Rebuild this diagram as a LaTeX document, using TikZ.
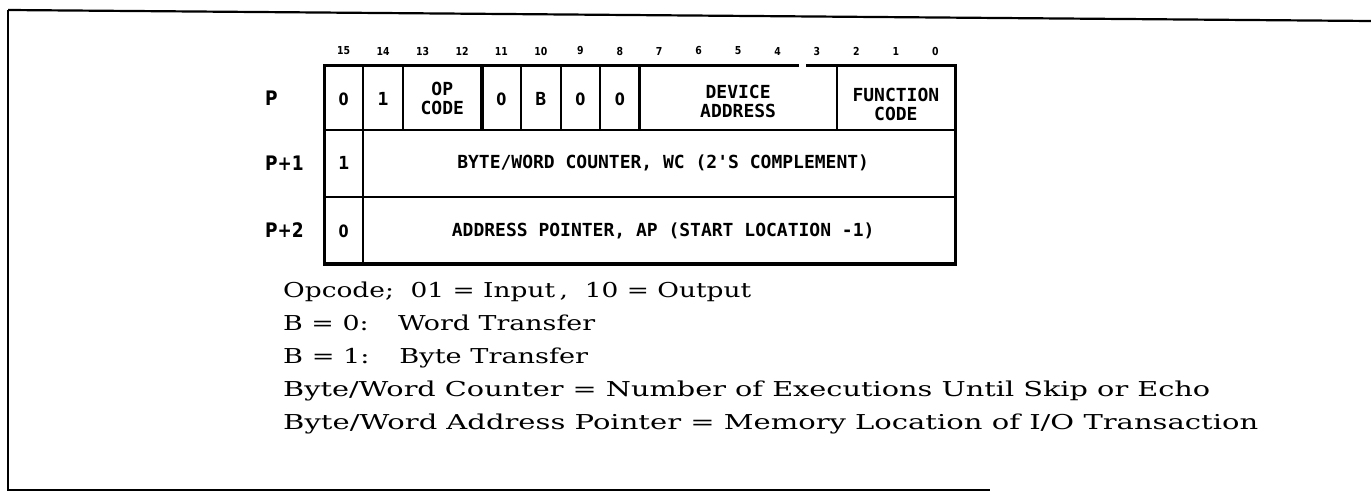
\documentclass[tikz,border=0pt]{standalone}
\usepackage{graphicx}
\usepackage{fontspec}
\newfontfamily\boxfont{DejaVu Sans Mono}
\newfontfamily\labfont[FakeStretch=0.85]{DejaVu Sans}
\newfontfamily\capfont{DejaVu Serif}
\begin{document}
\begin{tikzpicture}[x=1pt,y=-1pt,
  boxtxt/.style={font=\boxfont\bfseries\fontsize{18}{19}\selectfont, align=center, inner sep=0pt},
  celldig/.style={font=\labfont\bfseries\fontsize{17}{18}\selectfont, inner sep=0pt},
  bitnum/.style={font=\labfont\bfseries\fontsize{11}{12}\selectfont, inner sep=0pt},
  rowlab/.style={font=\labfont\bfseries\fontsize{20}{21}\selectfont, inner sep=0pt, anchor=west},
  captxt/.style={font=\capfont\fontsize{20.5}{22}\selectfont, inner sep=0pt, anchor=base west},
  thinln/.style={line width=2pt},
  midln/.style={line width=2.7pt},
  thickln/.style={line width=3.6pt},
  boxln/.style={line width=3pt, line join=miter},
  frame/.style={line width=2.2pt}]
\useasboundingbox (0,0) rectangle (1371,497);
\def\L{324}\def\W{39.4375}
% outer frame
\draw[frame] (8,10) -- (8,490) -- (990,490);
\draw[frame] (8,10) -- (1371,21);
% bit numbers
\foreach \b in {0,...,15}{
  \node[bitnum] (bit\b) at ({\L+(15-\b+0.5)*\W},51) {\b};
}
% row geometry
\def\ya{66}\def\yb{130}\def\yc{197}\def\yd{264}
% row dividers
\draw[midln] (\L,\yb) -- (955,\yb);
\draw[midln] (\L,\yc) -- (955,\yc);
% vertical dividers row P
\foreach \b in {14,13,10,9}{
  \draw[thinln] ({\L+(15-\b)*\W},\ya) -- ({\L+(15-\b)*\W},\yb);
}
\draw[thickln] ({\L+4*\W},\ya) -- ({\L+4*\W},\yb);
\draw[thinln] ({\L+7*\W},\ya) -- ({\L+7*\W},\yb);
\draw[thickln] ({\L+8*\W},\ya) -- ({\L+8*\W},\yb);
\draw[thinln] ({\L+13*\W},\ya) -- ({\L+13*\W},\yb);
% vertical divider bit 15 / rest in rows P+1, P+2
\draw[thinln] ({\L+\W},\yb) -- ({\L+\W},\yd);
% outer box (small gap in the top edge as printed)
\draw[boxln] (799,\ya) -- (\L,\ya) -- (\L,\yd) -- (955,\yd) -- (955,\ya) -- (806,\ya);
% row labels
\node[rowlab] (rP) at (265,98) {P};
\node[rowlab] (rP1) at (265,163) {P+1};
\node[rowlab] (rP2) at (265,230) {P+2};
% row P fields
\node[celldig] (f15) at ({\L+0.5*\W},99) {0};
\node[boxtxt] (f14) at ({\L+1.5*\W},99) {1};
\node[boxtxt] (fop) at ({\L+3*\W},98) {OP\\CODE};
\node[celldig] (f11) at ({\L+4.5*\W},99) {0};
\node[boxtxt] (f10) at ({\L+5.5*\W},99) {B};
\node[celldig] (f9) at ({\L+6.5*\W},99) {0};
\node[celldig] (f8) at ({\L+7.5*\W},99) {0};
\node[boxtxt] (fdev) at ({\L+10.5*\W},101) {DEVICE\\ADDRESS};
\node[boxtxt] (ffun) at ({\L+14.5*\W},104) {FUNCTION\\CODE};
% row P+1
\node[boxtxt] (g15) at ({\L+0.5*\W},163) {1};
\node[boxtxt] (gwc) at ({\L+8.6*\W},163) {BYTE/WORD COUNTER, WC (2'S COMPLEMENT)};
% row P+2
\node[celldig] (h15) at ({\L+0.5*\W},231) {0};
\node[boxtxt] (hap) at ({\L+8.6*\W},231) {ADDRESS POINTER, AP (START LOCATION -1)};
% caption
\node[captxt] (c1) at (283,297) {\resizebox{468pt}{\height}{Opcode;\ \ 01 = Input\,, \ 10 = Output}};
\node[captxt] (c2) at (283,330) {\resizebox{312pt}{\height}{B = 0:\hspace{1.1em}Word Transfer}};
\node[captxt] (c3) at (283,363) {\resizebox{305pt}{\height}{B = 1:\hspace{1.1em}Byte Transfer}};
\node[captxt] (c4) at (283,396) {\resizebox{927pt}{\height}{Byte/Word Counter = Number of Executions Until Skip or Echo}};
\node[captxt] (c5) at (283,429) {\resizebox{975pt}{\height}{Byte/Word Address Pointer = Memory Location of I/O Transaction}};
\end{tikzpicture}
\end{document}
